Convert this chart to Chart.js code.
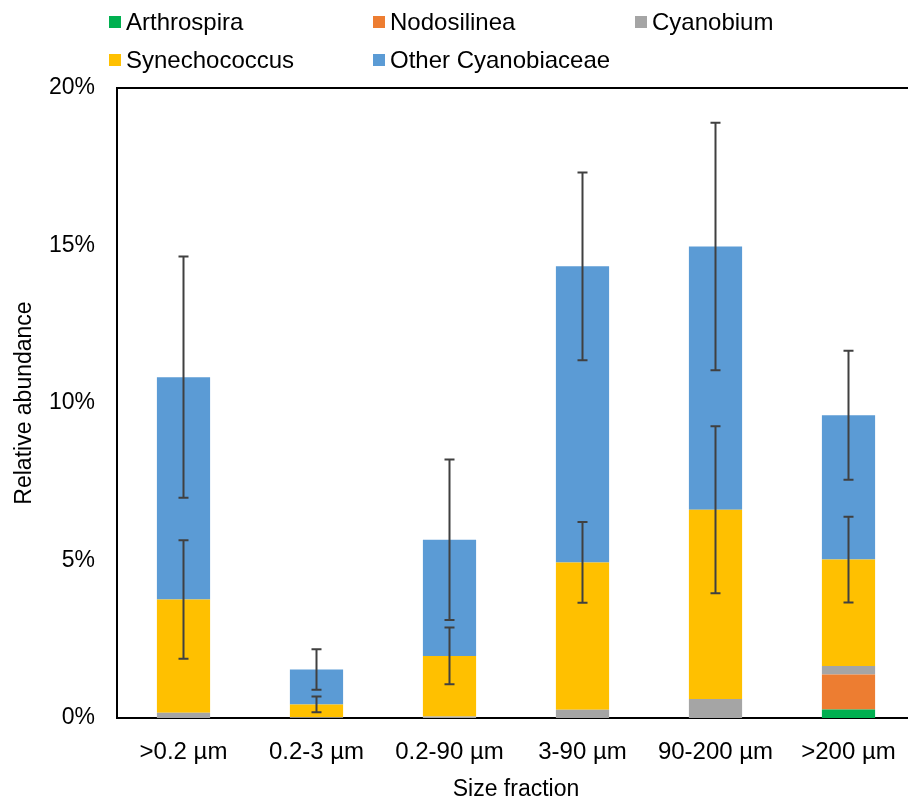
<!DOCTYPE html>
<html>
<head>
<meta charset="utf-8">
<script src="https://cdn.jsdelivr.net/npm/chart.js@4.4.1/dist/chart.umd.min.js"></script>
<style>
  html, body { margin: 0; padding: 0; background: #fff; overflow: hidden; }
  #wrap { width: 916px; height: 801px; }
</style>
</head>
<body>
<div id="wrap"><canvas id="chart"></canvas></div>
<script>
const categories = [">0.2 µm", "0.2-3 µm", "0.2-90 µm", "3-90 µm", "90-200 µm", ">200 µm"];

// segment heights (%), stacked bottom to top
const arthrospira = [0, 0, 0, 0, 0, 0.27];
const nodosilinea = [0, 0, 0, 0, 0, 1.11];
const cyanobium = [0.17, 0.02, 0.05, 0.26, 0.60, 0.27];
const synechococcus = [3.59, 0.41, 1.92, 4.68, 6.01, 3.38];
const otherCyano = [7.06, 1.11, 3.69, 9.40, 8.36, 4.58];

// +/- error (%) shown at the top of the stacked segment
const synechococcusErr = [1.88, 0.25, 0.90, 1.28, 2.65, 1.36];
const otherCyanoErr = [3.83, 0.645, 2.55, 2.98, 3.93, 2.05];

const yTicks = [0, 5, 10, 15, 20];

const FONT = "'Liberation Sans', Arial, sans-serif";

const errorBars = {
  id: "errorBars",
  afterDatasetsDraw(chart) {
    const ctx = chart.ctx;
    const y = chart.scales.y;
    ctx.save();
    ctx.strokeStyle = "#404040";
    ctx.lineWidth = 2;
    chart.data.datasets.forEach((ds, di) => {
      if (!ds.err) return;
      const meta = chart.getDatasetMeta(di);
      ds.data.forEach((v, i) => {
        let top = 0;
        for (let k = 0; k <= di; k++) top += chart.data.datasets[k].data[i];
        const x = meta.data[i].x;
        const yHi = y.getPixelForValue(top + ds.err[i]);
        const yLo = y.getPixelForValue(top - ds.err[i]);
        ctx.beginPath();
        ctx.moveTo(x, yHi); ctx.lineTo(x, yLo);
        ctx.moveTo(x - 5, yHi); ctx.lineTo(x + 5, yHi);
        ctx.moveTo(x - 5, yLo); ctx.lineTo(x + 5, yLo);
        ctx.stroke();
      });
    });
    // top border of the plot box
    const a = chart.chartArea;
    ctx.strokeStyle = "#000";
    ctx.beginPath();
    ctx.moveTo(a.left - 1, a.top);
    ctx.lineTo(a.right, a.top);
    ctx.stroke();
    ctx.restore();
  }
};

const legendBoxes = {
  id: "legendBoxes",
  afterDraw(chart) {
    const ctx = chart.ctx;
    const cols = [109, 373, 635];
    const rows = [22, 60];
    ctx.save();
    ctx.font = "24px " + FONT;
    ctx.textBaseline = "middle";
    chart.data.datasets.forEach((ds, i) => {
      const cx = cols[i % 3];
      const cy = rows[Math.floor(i / 3)];
      ctx.fillStyle = ds.backgroundColor;
      ctx.fillRect(cx, cy - 6, 12, 12);
      ctx.fillStyle = "#000";
      ctx.fillText(ds.label, cx + 17, cy + 1);
    });
    ctx.restore();
  }
};

new Chart(document.getElementById("chart"), {
  type: "bar",
  data: {
    labels: categories,
    datasets: [
      { label: "Arthrospira", data: arthrospira, backgroundColor: "#00B050" },
      { label: "Nodosilinea", data: nodosilinea, backgroundColor: "#ED7D31" },
      { label: "Cyanobium", data: cyanobium, backgroundColor: "#A5A5A5" },
      { label: "Synechococcus", data: synechococcus, backgroundColor: "#FFC000", err: synechococcusErr },
      { label: "Other Cyanobiaceae", data: otherCyano, backgroundColor: "#5B9BD5", err: otherCyanoErr }
    ]
  },
  options: {
    responsive: true,
    maintainAspectRatio: false,
    animation: false,
    barPercentage: 0.4,
    categoryPercentage: 1,
    layout: { padding: { top: 88, right: 1, left: 0, bottom: 0 } },
    plugins: { legend: { display: false }, tooltip: { enabled: false } },
    scales: {
      x: {
        stacked: true,
        grid: { display: false },
        border: { color: "#000", width: 2 },
        ticks: { color: "#000", font: { family: FONT, size: 24 }, padding: 12, maxRotation: 0 },
        title: { display: true, text: "Size fraction", color: "#000", font: { family: FONT, size: 23, lineHeight: 1 }, padding: { top: 0, bottom: 0 } },
        afterFit(s) { s.height = 83; }
      },
      y: {
        stacked: true,
        min: 0,
        max: 20,
        afterBuildTicks(s) { s.ticks = yTicks.map(v => ({ value: v })); },
        grid: { display: false, drawTicks: false },
        border: { color: "#000", width: 2 },
        ticks: { color: "#000", font: { family: FONT, size: 23 }, padding: 22, callback: v => v + "%" },
        title: { display: true, text: "Relative abundance", color: "#000", font: { family: FONT, size: 23 }, padding: { top: 11, bottom: 0 } },
        afterFit(s) { s.width = 117; }
      }
    }
  },
  plugins: [errorBars, legendBoxes]
});
</script>
</body>
</html>
